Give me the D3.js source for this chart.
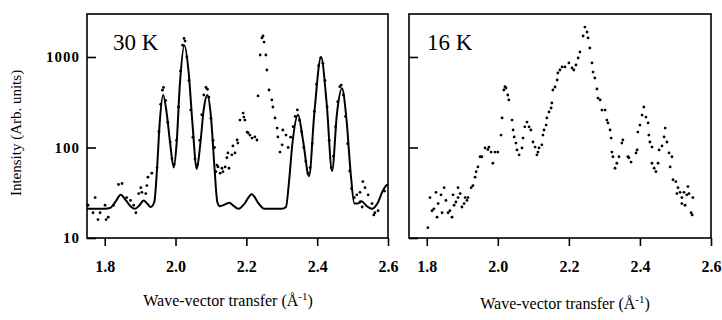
<!DOCTYPE html>
<html><head><meta charset="utf-8">
<script src="https://cdn.jsdelivr.net/npm/d3@7"></script>
<style>
body{margin:0;background:#fff;}
svg{display:block;}
text{font-family:"Liberation Serif","DejaVu Serif",serif;fill:#000;}
</style></head>
<body><svg id="c" width="722" height="320"></svg>
<script>
// ---- data ----
const xTicks = [1.8, 2.0, 2.2, 2.4, 2.6];
const yTicks = [10, 100, 1000];
const panelTitles = ["30 K", "16 K"];
const xTitle = "Wave-vector transfer (Å";
const yTitle = "Intensity (Arb. units)";

// 30 K fit (solid line)
const fitX = [1.750,1.790,1.815,1.830,1.845,1.860,1.875,1.885,1.898,1.910,1.920,1.930,1.940,1.948,1.955,1.965,1.975,1.985,1.995,2.003,2.012,2.025,2.037,2.048,2.060,2.070,2.080,2.090,2.100,2.110,2.118,2.125,2.140,2.152,2.165,2.178,2.195,2.215,2.235,2.250,2.270,2.300,2.312,2.320,2.330,2.346,2.360,2.377,2.392,2.411,2.427,2.442,2.456,2.470,2.483,2.495,2.505,2.515,2.525,2.540,2.555,2.570,2.585,2.595,2.600];
const fitY = [21,21,21.5,25,30,26,22,21,23,26,24,22,25,60,180,380,240,110,60,110,480,1350,680,180,58,110,270,380,220,60,25,22.5,23.5,24.5,22.5,21,24,30.5,24,21,21,21,22,40,110,230,120,48,240,1000,300,55,240,450,200,50,24,24,25.5,22.5,21,24,33,38,39];

// 30 K data (dots)
const warmX = [1.753,1.767,1.773,1.781,1.787,1.801,1.804,1.810,1.825,1.839,1.849,1.862,1.873,1.882,1.888,1.896,1.902,1.905,1.916,1.919,1.922,1.933,
  1.948,1.953,1.958,1.963,1.966,1.972,1.978,1.985,1.990,1.996,
  2.003,2.008,2.014,2.020,2.024,2.027,2.032,2.038,2.043,2.049,2.055,
  2.062,2.068,2.074,2.080,2.086,2.090,2.094,2.100,2.106,2.110,2.114,2.117,
  2.120,2.126,2.131,2.134,2.140,2.145,2.148,2.151,2.159,2.162,2.168,2.174,2.176,2.182,2.191,2.193,2.196,2.202,2.205,2.210,2.216,2.224,2.230,
  2.233,2.239,2.244,2.247,2.250,2.255,2.258,2.264,2.272,2.275,2.281,2.287,2.289,2.295,2.301,2.303,2.312,
  2.318,2.325,2.332,2.338,2.344,2.350,2.356,2.362,2.368,2.374,
  2.380,2.386,2.392,2.398,2.404,2.410,2.416,2.422,2.428,2.434,2.440,
  2.446,2.452,2.458,2.464,2.468,2.474,2.480,2.486,2.492,2.497,
  2.505,2.512,2.521,2.521,2.527,2.529,2.535,2.544,2.555,2.560,2.563,2.572,2.590];
const warmY = [23,19,28,16,19,23,16,17,23,39,40,28,26,23,19,31,36,32,31,38,47,52,
  60,150,300,430,460,330,190,115,75,65,
  120,280,700,1350,1600,1500,1000,550,260,130,75,
  65,120,230,380,460,440,360,210,120,100,54,64,
  61,52,59,54,61,77,87,59,83,104,87,121,112,201,240,217,201,148,145,137,127,131,121,
  371,1052,1622,1706,1460,1052,718,432,335,280,212,164,131,89,107,156,137,
  100,130,170,220,260,200,150,100,70,52,
  60,110,250,500,800,980,850,550,280,120,60,
  80,170,320,470,490,380,220,110,55,35,
  28,30,32,25,22,42,36,30,24,18,19,20,33];

// 16 K data (dots)
const coldX = [1.803,1.809,1.815,1.820,1.826,1.829,1.832,1.840,1.843,1.849,1.854,1.860,1.865,1.871,1.874,1.877,1.882,1.888,1.888,1.894,1.899,1.905,1.908,1.913,1.916,1.925,1.930,1.936,1.939,1.944,1.950,1.955,1.964,1.972,1.975,1.981,1.986,1.992,2.000,
  2.009,2.012,2.017,2.020,2.023,2.028,2.031,2.040,2.043,2.046,2.051,2.054,2.060,2.068,2.071,2.076,2.082,2.088,2.093,2.099,2.105,2.110,2.113,2.116,2.124,2.127,2.130,2.136,2.138,2.144,2.150,2.152,2.155,2.161,2.167,2.169,2.175,2.181,2.189,2.200,2.209,2.214,2.220,2.226,2.231,2.240,2.245,2.251,2.254,2.259,2.265,2.268,2.273,2.279,2.282,2.288,2.293,2.302,2.307,2.310,2.316,2.319,2.321,2.324,2.330,2.335,2.341,2.349,2.352,2.366,2.369,2.375,2.389,2.392,2.394,2.400,2.406,2.411,2.417,2.423,2.425,2.428,2.434,2.434,2.440,2.445,2.451,2.454,2.462,2.468,2.471,2.476,2.482,2.485,2.490,2.493,2.501,2.504,2.507,2.513,2.518,2.518,2.524,2.527,2.532,2.535,2.538,2.544,2.547,2.549];
const coldY = [13,28,20,21,32,17,24,30,19,36,26,19,20,17,30,23,25,36,28,31,22,24,28,26,28,36,38,47,54,61,79,79,99,95,101,89,67,89,89,
  137,212,432,470,454,380,335,201,156,131,112,94,83,99,127,169,191,169,156,115,101,83,89,99,107,137,156,177,212,247,273,310,432,466,557,665,718,776,776,859,756,718,816,975,1135,1706,2143,1888,1622,1257,859,682,586,443,352,335,259,259,201,187,156,127,89,79,59,67,79,112,121,79,77,69,87,94,148,177,228,280,217,187,137,115,101,67,59,54,67,94,104,131,164,115,87,61,79,44,42,31,36,32,28,24,32,23,30,37,31,19,18,28];

// ---- drawing ----
const svg = d3.select("#c");
const yTop = 14, yBot = 238;
const y = d3.scaleLog().domain([10, 2985]).range([yBot, yTop]);
const xL = d3.scaleLinear().domain([1.75, 2.6]).range([87, 388]);
const xR = d3.scaleLinear().domain([1.75, 2.6]).range([409, 711]);

function panel(x, labels, title, titleX, xTitleX, xTitleY) {
  const g = svg.append("g");
  const ax = g.append("g").attr("transform", `translate(0,${yBot})`)
    .call(d3.axisBottom(x).tickValues(xTicks).tickFormat(d3.format(".1f")).tickSize(8).tickSizeOuter(0).tickPadding(15));
  ax.select(".domain").remove();
  ax.selectAll("line").attr("stroke", "#000").attr("stroke-width", 1.6);
  ax.selectAll("text").attr("font-size", 16).attr("font-weight", "bold").attr("font-family", "Liberation Serif");
  const ay = g.append("g").attr("transform", `translate(${x.range()[0]},0)`)
    .call(d3.axisLeft(y).tickValues(yTicks).tickSize(-9).tickPadding(7)
      .tickFormat(labels ? d3.format("d") : () => ""));
  ay.select(".domain").remove();
  ay.selectAll("line").attr("stroke", "#000").attr("stroke-width", 1.6);
  ay.selectAll("text").attr("font-size", 15).attr("font-weight", "bold")
    .attr("letter-spacing", 1).attr("font-family", "Liberation Serif");
  g.append("rect").attr("x", x.range()[0]).attr("y", yTop)
    .attr("width", x.range()[1] - x.range()[0]).attr("height", yBot - yTop)
    .attr("fill", "none").attr("stroke", "#000").attr("stroke-width", 1.6);
  g.append("text").attr("x", titleX).attr("y", 50).attr("font-size", 23)
    .text(title);
  const t = g.append("text").attr("x", xTitleX).attr("y", xTitleY)
    .attr("text-anchor", "middle").attr("font-size", 16);
  t.append("tspan").text(xTitle);
  t.append("tspan").attr("dy", -6).attr("font-size", 11).text("-1");
  t.append("tspan").attr("dy", 6).text(")");
  return g;
}

const gL = panel(xL, true, panelTitles[0], 113, 228, 306);
const gR = panel(xR, false, panelTitles[1], 427, 565, 309);

svg.append("text").attr("transform", "translate(21,133) rotate(-90)")
  .attr("text-anchor", "middle").attr("font-size", 15).text(yTitle);

const line = d3.line().x((d, i) => xL(fitX[i])).y(d => y(d)).curve(d3.curveMonotoneX);
gL.append("path").attr("d", line(fitY)).attr("fill", "none")
  .attr("stroke", "#000").attr("stroke-width", 2);

gL.selectAll("circle.w").data(warmY).join("circle").attr("class", "w")
  .attr("cx", (d, i) => xL(warmX[i])).attr("cy", d => y(d)).attr("r", 1.4).attr("fill", "#000");
gR.selectAll("circle.c").data(coldY).join("circle").attr("class", "c")
  .attr("cx", (d, i) => xR(coldX[i])).attr("cy", d => y(d)).attr("r", 1.4).attr("fill", "#000");
</script></body></html>
